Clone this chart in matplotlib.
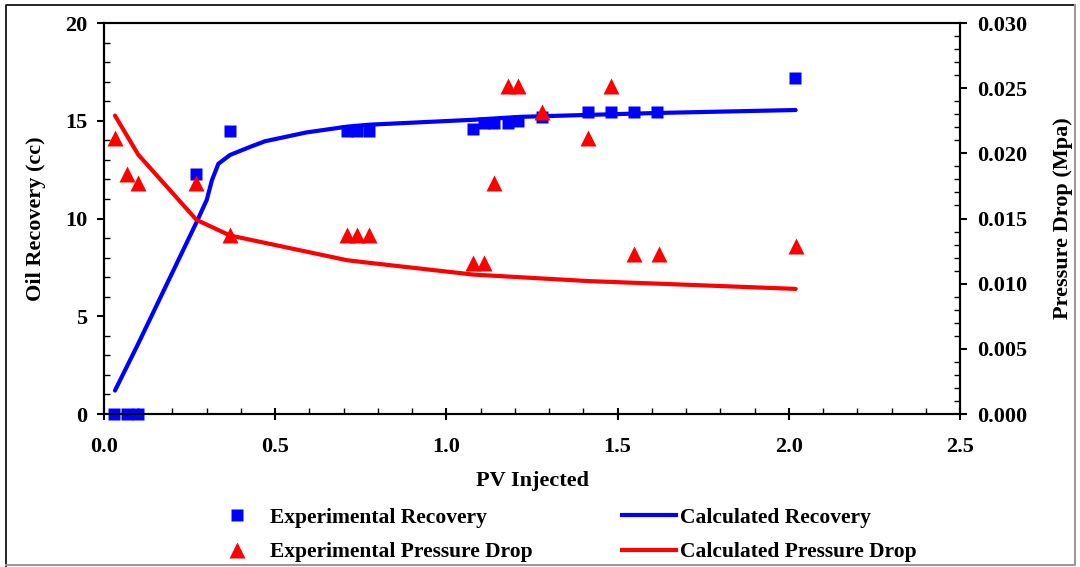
import numpy as np
import matplotlib.pyplot as plt
from matplotlib.ticker import MultipleLocator, FormatStrFormatter
from matplotlib.lines import Line2D

plt.rcParams['font.family'] = ['Liberation Serif', 'DejaVu Serif']
plt.rcParams['font.weight'] = 'bold'

# experimental recovery (cc)
exp_rec_x = [0.03, 0.067, 0.10, 0.27, 0.368, 0.71, 0.74, 0.775, 1.078, 1.11, 1.14, 1.18, 1.21,
             1.28, 1.414, 1.48, 1.548, 1.615, 2.018]
exp_rec_y = [0.0, 0.0, 0.0, 12.3, 14.5, 14.5, 14.5, 14.5, 14.6, 14.9, 14.9, 14.9, 15.0,
             15.2, 15.45, 15.45, 15.45, 15.45, 17.2]

# experimental pressure drop (MPa)
exp_dp_x = [0.032, 0.067, 0.10, 0.27, 0.368, 0.71, 0.74, 0.775, 1.078, 1.11, 1.14, 1.18, 1.21,
            1.28, 1.414, 1.48, 1.548, 1.62, 2.02]
exp_dp_y = [0.0212, 0.0184, 0.0177, 0.0177, 0.0137, 0.0137, 0.0137, 0.0137, 0.0116, 0.0116, 0.0177,
            0.0252, 0.0252, 0.0232, 0.0212, 0.0252, 0.0123, 0.0123, 0.0129]

# calculated recovery
calc_rec_x = [0.032, 0.10, 0.27, 0.30, 0.315, 0.334, 0.368, 0.426, 0.47, 0.59, 0.71, 0.775,
              1.078, 1.215, 1.414, 1.62, 2.02]
calc_rec_y = [1.2, 3.6, 9.8, 10.95, 11.95, 12.8, 13.25, 13.66, 13.95, 14.4, 14.7, 14.8,
              15.05, 15.2, 15.3, 15.4, 15.55]

# calculated pressure drop
calc_dp_x = [0.032, 0.10, 0.27, 0.368, 0.71, 0.775, 1.078, 1.414, 1.62, 2.02]
calc_dp_y = [0.0229, 0.0199, 0.0149, 0.0137, 0.0118, 0.0116, 0.0107, 0.0102, 0.0100, 0.0096]

fig = plt.figure(figsize=(10.8, 5.67), dpi=100)
ax = fig.add_axes([0.0963, 0.2698, 0.7926, 0.6896])
ax2 = ax.twinx()

ax.plot(calc_rec_x, calc_rec_y, color='#0000ff', lw=3, solid_capstyle='round',
        solid_joinstyle='round', zorder=3)
ax.plot(exp_rec_x, exp_rec_y, 's', color='#0000ff', ms=8, mec='none', zorder=4, clip_on=False)
ax2.plot(calc_dp_x, calc_dp_y, color='#ff0000', lw=3, solid_capstyle='round',
         solid_joinstyle='round', zorder=3)
ax2.plot(exp_dp_x, exp_dp_y, '^', color='#ff0000', ms=12, mec='none', zorder=4, clip_on=False)

ax.set_xlim(0, 2.5)
ax.set_ylim(0, 20)
ax2.set_ylim(0, 0.030)
ax.xaxis.set_major_locator(MultipleLocator(0.5))
ax.xaxis.set_minor_locator(MultipleLocator(0.1))
ax.yaxis.set_major_locator(MultipleLocator(5))
ax.yaxis.set_minor_locator(MultipleLocator(1))
ax2.yaxis.set_major_locator(MultipleLocator(0.005))
ax2.yaxis.set_minor_locator(MultipleLocator(0.001))
ax.xaxis.set_major_formatter(FormatStrFormatter('%.1f'))
ax2.yaxis.set_major_formatter(FormatStrFormatter('%.3f'))

for a in (ax, ax2):
    a.tick_params(which='major', direction='out', length=5, width=1.5, labelsize=16, pad=7)
    a.tick_params(which='minor', direction='in', length=4, width=1)
    for s in a.spines.values():
        s.set_linewidth(1.5)
ax.tick_params(axis='x', which='major', direction='inout', length=9, pad=12)

ax.set_xlabel('PV Injected', fontsize=16, fontweight='bold', labelpad=10)
ax.set_ylabel('Oil Recovery (cc)', fontsize=16, fontweight='bold', labelpad=14)
ax2.set_ylabel('Pressure Drop (Mpa)', fontsize=16, fontweight='bold', labelpad=19)

h1 = [Line2D([], [], ls='none', marker='s', color='#0000ff', ms=8, mec='none'),
      Line2D([], [], ls='none', marker='^', color='#ff0000', ms=12, mec='none')]
h2 = [Line2D([], [], color='#0000ff', lw=3),
      Line2D([], [], color='#ff0000', lw=3)]
fig.legend(h1, ['Experimental Recovery', 'Experimental Pressure Drop'],
           loc='upper left', bbox_to_anchor=(0.192, 0.139), frameon=False,
           handlelength=1.0, handletextpad=1.0, labelspacing=0.68,
           prop={'size': 15.5, 'weight': 'bold'})
fig.legend(h2, ['Calculated Recovery', 'Calculated Pressure Drop'],
           loc='upper left', bbox_to_anchor=(0.558, 0.139), frameon=False,
           handlelength=2.5, handletextpad=0.2, labelspacing=0.68,
           prop={'size': 15.5, 'weight': 'bold'})

# outer border
fig.add_artist(Line2D([0.006, 0.006, 0.995], [0.0, 0.991, 0.991], color='black', lw=1.2,
                      transform=fig.transFigure))
fig.add_artist(Line2D([0.995, 0.995, 0.006], [0.991, 0.003, 0.003], color='#999999', lw=1.5,
                      transform=fig.transFigure))

fig.savefig('out.png', dpi=100)
